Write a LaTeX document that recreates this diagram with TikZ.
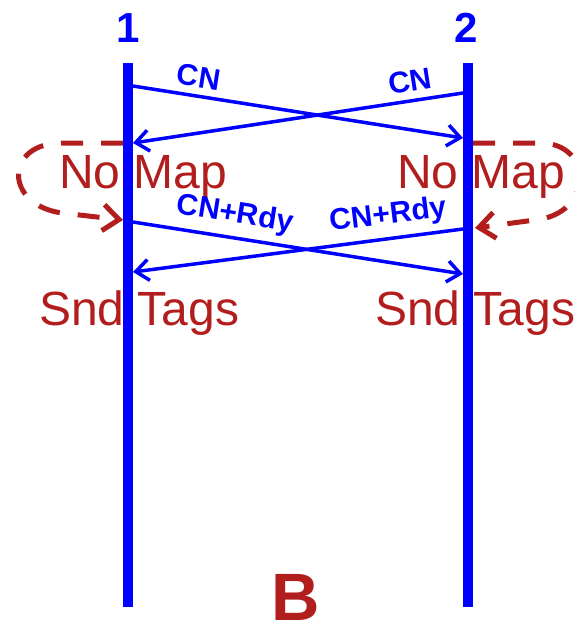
\documentclass[tikz,border=0pt]{standalone}
\usepackage{fontspec}
\setmainfont{Liberation Sans}
\usetikzlibrary{arrows.meta}
\definecolor{mapred}{RGB}{178,30,30}
\definecolor{msgblue}{RGB}{0,0,255}

\begin{document}
\begin{tikzpicture}[x=1pt,y=-1pt,
    lbl/.style={text=mapred,inner sep=0pt,anchor=base west,font=\fontsize{48}{50}\selectfont},
    msg/.style={text=msgblue,inner sep=0pt,font=\bfseries\fontsize{30}{32}\selectfont},
    loopback/.style={draw=mapred,line width=5pt,dash pattern=on 22pt off 18pt,-{Straight Barb[length=16pt,width=26pt]}},
    send/.style={draw=msgblue,line width=3.5pt,-{Straight Barb[length=13pt,width=21pt]}}]
    \useasboundingbox (0,0) rectangle (574,624);
    \node[inner sep=0pt,anchor=base,text=msgblue,font=\bfseries\fontsize{42}{44}\selectfont] (one) at (128,42) {1};
    \node[inner sep=0pt,anchor=base,text=msgblue,font=\bfseries\fontsize{42}{44}\selectfont] (two) at (466,42) {2};
    \node[inner sep=0pt,anchor=base,text=mapred,font=\bfseries\fontsize{67}{70}\selectfont] (b) at (296,620) {B};
    \node[lbl] (m1) at (59,188) {No Map};
    \node[lbl] (m2) at (397,188) {No Map};
    \node[lbl] (s1) at (39,325) {Snd Tags};
    \node[lbl] (s2) at (375,325) {Snd Tags};
    \coordinate (t1) at (128,63);
    \coordinate (e1) at (128,607);
    \coordinate (t2) at (468,63);
    \coordinate (e2) at (468,607);
    \coordinate (a) at (133,86);
    \coordinate (b) at (463,138);
    \coordinate (c) at (463,93);
    \coordinate (d) at (133,143);
    \coordinate (f) at (133,222);
    \coordinate (g) at (463,274);
    \coordinate (h) at (463,229);
    \coordinate (i) at (133,272);
    \coordinate (j) at (123,143);
    \coordinate (k) at (123,220);
    \coordinate (l) at (473,143);
    \coordinate (m) at (475,228);
    \draw [loopback] (j) -- (62,143) .. controls (4,143) and (4,205) .. (62,213) -- (k);
    \draw [loopback] (l) -- (540,143) .. controls (594,143) and (594,214) .. (535,220) -- (m);
    \draw [msgblue,line width=10pt] (t1) -- (e1);
    \draw [msgblue,line width=10pt] (t2) -- (e2);
    \draw [send] (a) to (b);
    \draw [send] (c) to (d);
    \draw [send] (f) to (g);
    \draw [send] (h) to (i);
    \node[msg,rotate=-9] (x) at (199,77) {CN};
    \node[msg,rotate=9] (x) at (410,81) {CN};
    \node[msg,rotate=-9] (y) at (235,215) {CN+Rdy};
    \node[msg,rotate=7] (y) at (388,216) {CN+Rdy};
  \end{tikzpicture}
\end{document}
